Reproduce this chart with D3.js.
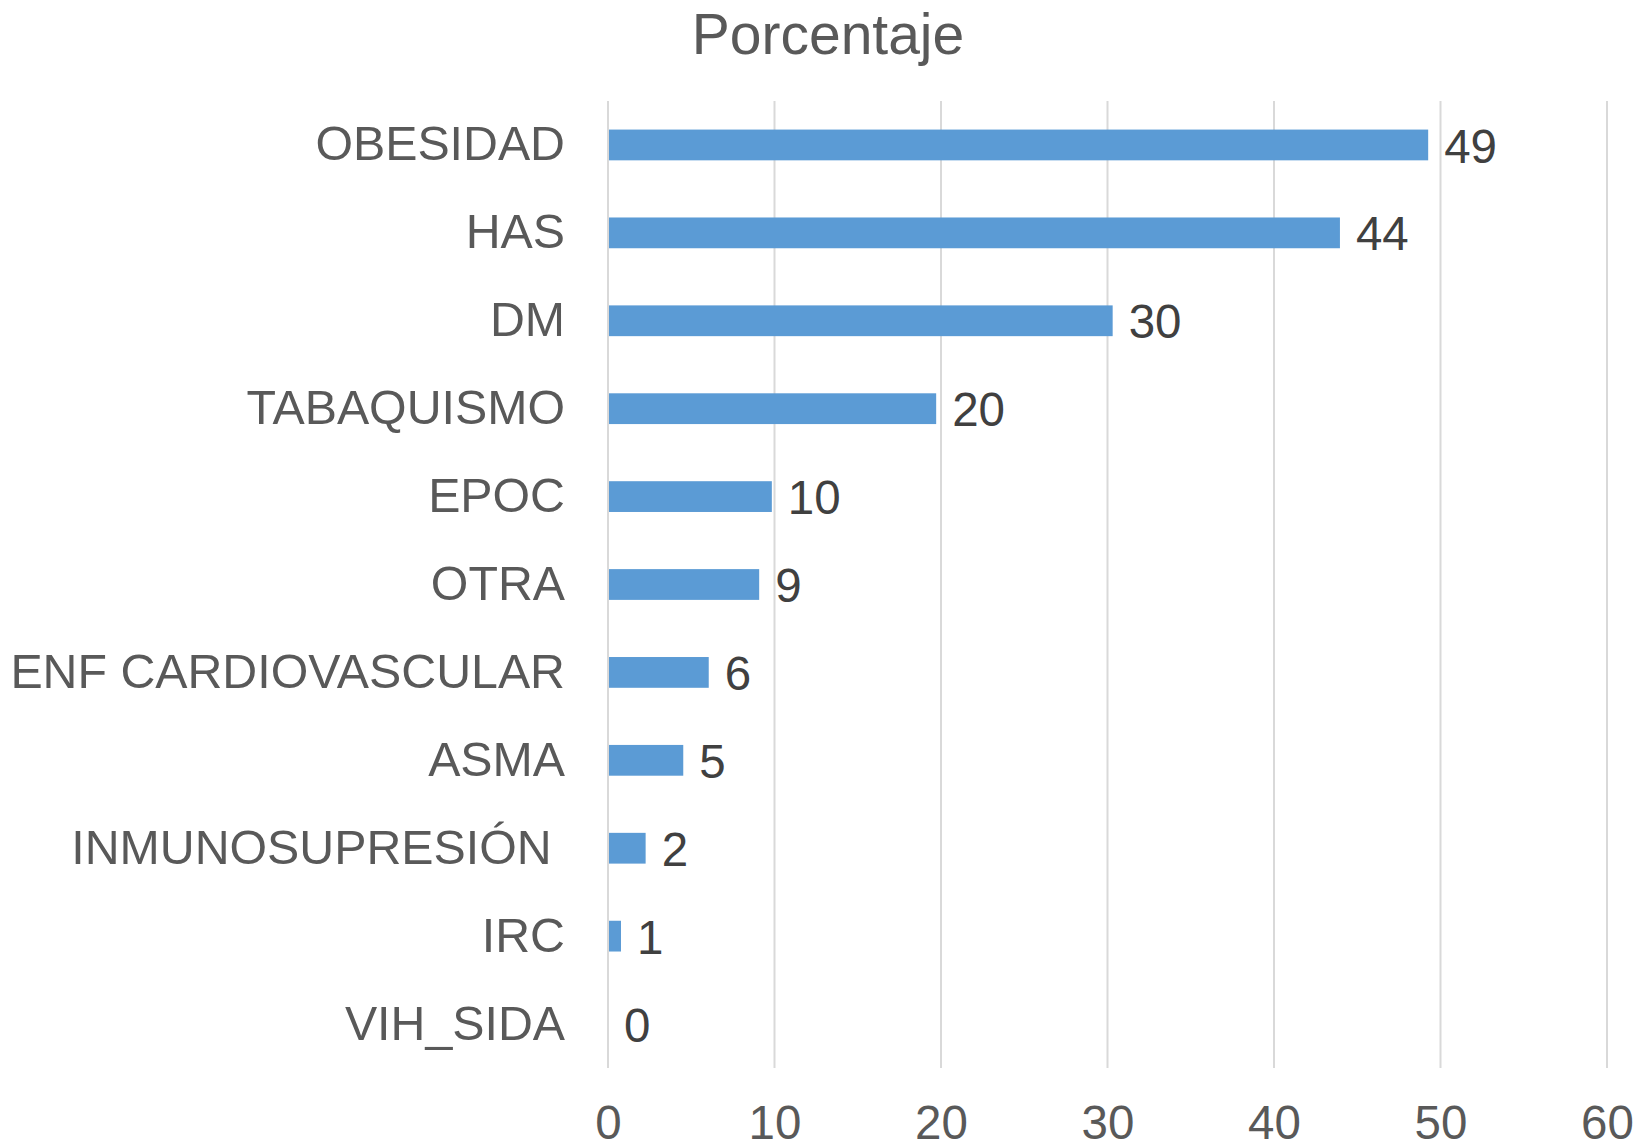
<!DOCTYPE html>
<html>
<head>
<meta charset="utf-8">
<script src="https://cdn.jsdelivr.net/npm/d3@7"></script>
<style>
  body { margin: 0; background: #fff; }
  text { font-family: "Liberation Sans", Arial, sans-serif; }
</style>
</head>
<body>
<script>
// categories top to bottom (labels show them rounded)
var categories = ["OBESIDAD", "HAS", "DM", "TABAQUISMO", "EPOC", "OTRA",
                  "ENF CARDIOVASCULAR", "ASMA", "INMUNOSUPRESIÓN ", "IRC", "VIH_SIDA"];
var values = [49.26, 43.96, 30.31, 19.71, 9.84, 9.08, 6.05, 4.52, 2.26, 0.78, 0];
var xTicks = [0, 10, 20, 30, 40, 50, 60];
var chartTitle = "Porcentaje";

var svgWidth = 1639, svgHeight = 1146;
// plot edges (dont call these top/left - window.top is read only)
var plotLeft = 608, plotRight = 1607, plotTop = 101, plotBottom = 1068;

var svg = d3.select("body")
            .append("svg")
            .attr("width", svgWidth)
            .attr("height", svgHeight);

var x = d3.scaleLinear().domain([0, 60]).range([plotLeft, plotRight]);
var y = d3.scaleBand().domain(categories).range([plotTop, plotBottom]).paddingInner(0.65).paddingOuter(0.325);

// gridlines
svg.selectAll("line.grid")
   .data(xTicks)
   .enter()
   .append("line")
   .attr("class", "grid")
   .attr("x1", function(d) { return x(d); })
   .attr("x2", function(d) { return x(d); })
   .attr("y1", plotTop)
   .attr("y2", plotBottom)
   .attr("stroke", "#d9d9d9")
   .attr("stroke-width", 2);

// bars
svg.selectAll("rect.bar")
   .data(values)
   .enter()
   .append("rect")
   .attr("class", "bar")
   .attr("x", x(0) + 1)
   .attr("y", function(d, i) { return y(categories[i]); })
   .attr("width", function(d) { return Math.max(0, x(d) - x(0) - 1); })
   .attr("height", y.bandwidth())
   .attr("fill", "#5b9bd5");

// data labels
svg.selectAll("text.val")
   .data(values)
   .enter()
   .append("text")
   .attr("class", "val")
   .attr("x", function(d) { return x(d) + 16; })
   .attr("y", function(d, i) { return y(categories[i]) + y.bandwidth() / 2; })
   .attr("dy", "0.37em")
   .attr("font-size", 47.5)
   .attr("fill", "#404040")
   .text(function(d) { return d3.format(".0f")(d); });

// category axis (labels only)
var yAxis = svg.append("g")
               .attr("transform", "translate(" + (plotLeft - 43) + ",0)")
               .call(d3.axisLeft(y).tickSize(0).tickPadding(0));
yAxis.select(".domain").remove();
yAxis.selectAll("text")
     .attr("font-family", "\"Liberation Sans\", Arial, sans-serif")
     .attr("font-size", 48.3)
     .attr("fill", "#595959")
     .attr("dy", "0.32em")
     .style("white-space", "pre");

// value axis (labels only)
var xAxis = svg.append("g")
               .attr("transform", "translate(0," + plotBottom + ")")
               .call(d3.axisBottom(x).tickValues(xTicks).tickSize(0).tickPadding(0));
xAxis.select(".domain").remove();
xAxis.selectAll("text")
     .attr("font-family", "\"Liberation Sans\", Arial, sans-serif")
     .attr("font-size", 47.5)
     .attr("fill", "#595959")
     .attr("y", 71)
     .attr("dy", 0);

// title
svg.append("text")
   .attr("x", 828)
   .attr("y", 54)
   .attr("text-anchor", "middle")
   .attr("font-size", 57)
   .attr("fill", "#595959")
   .text(chartTitle);
</script>
</body>
</html>
